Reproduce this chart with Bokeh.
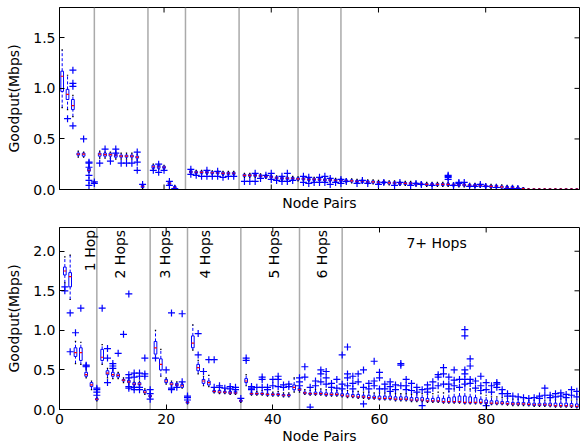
import numpy as np
from bokeh.plotting import figure
from bokeh.layouts import column
from bokeh.models import (Range1d, FixedTicker, LinearAxis, Span,
                          PrintfTickFormatter, ColumnDataSource)
from bokeh.embed import file_html
from bokeh.resources import INLINE
from bokeh.core.properties import value

FONT = "DejaVu Sans"

pairs = list(range(1, 98))
separators = [7, 17, 24, 34, 45, 53]
x_ticks = [0, 20, 40, 60, 80]
hop_labels = ["1 Hop", "2 Hops", "3 Hops", "4 Hops", "5 Hops", "6 Hops"]
hop_label_x = [5.7, 11.3, 19.7, 27.2, 40.2, 49.3]
hop7_label = "7+ Hops"
hop7_x = 70.7
hop7_y = 2.10

# ---------------- top panel ----------------
t_med = [1.12, 0.94, 0.83, 0.35, 0.35, 0.19, 0.07, 0.35, 0.345, 0.345,
         0.34, 0.33, 0.33, 0.33, 0.32, 0.03, 0.0, 0.225, 0.225, 0.22,
         0.06, 0.02, 0.0, 0.0, 0.175, 0.17, 0.17, 0.17, 0.165, 0.165,
         0.16, 0.16, 0.16, 0.0, 0.14, 0.14, 0.14, 0.135, 0.13, 0.125,
         0.115, 0.11, 0.11, 0.11, 0.105, 0.105, 0.10, 0.10, 0.10, 0.095,
         0.095, 0.09, 0.09, 0.085, 0.085, 0.08, 0.08, 0.075, 0.075, 0.07,
         0.07, 0.065, 0.065, 0.06, 0.06, 0.06, 0.055, 0.055, 0.05, 0.05,
         0.05, 0.05, 0.05, 0.045, 0.045, 0.045, 0.04, 0.04, 0.04, 0.035,
         0.03, 0.03, 0.025, 0.02, 0.02, 0.015, 0.01, 0.003, 0.003, 0.003,
         0.003, 0.003, 0.003, 0.003, 0.003, 0.003, 0.003]
t_q1 = [0.97, 0.89, 0.79, 0.34, 0.33, 0.18, 0.06, 0.33, 0.33, 0.33,
        0.32, 0.32, 0.32, 0.32, 0.31, 0.02, 0.0, 0.21, 0.21, 0.21,
        0.05, 0.01, 0.0, 0.0, 0.165, 0.16, 0.16, 0.16, 0.155, 0.155,
        0.15, 0.15, 0.15, 0.0, 0.13, 0.13, 0.13, 0.125, 0.12, 0.115,
        0.105, 0.10, 0.10, 0.10, 0.095, 0.095, 0.09, 0.09, 0.09, 0.085,
        0.085, 0.08, 0.08, 0.075, 0.075, 0.07, 0.07, 0.065, 0.065, 0.06,
        0.06, 0.055, 0.055, 0.05, 0.05, 0.05, 0.045, 0.045, 0.04, 0.04,
        0.04, 0.04, 0.04, 0.035, 0.035, 0.035, 0.03, 0.03, 0.03, 0.025,
        0.02, 0.02, 0.015, 0.01, 0.01, 0.008, 0.005, 0.0, 0.0, 0.0,
        0.0, 0.0, 0.0, 0.0, 0.0, 0.0, 0.0]
t_q3 = [1.17, 0.99, 0.89, 0.36, 0.36, 0.21, 0.07, 0.36, 0.36, 0.36,
        0.35, 0.34, 0.34, 0.34, 0.33, 0.04, 0.0, 0.24, 0.24, 0.23,
        0.07, 0.03, 0.0, 0.0, 0.185, 0.18, 0.18, 0.18, 0.175, 0.175,
        0.17, 0.17, 0.17, 0.0, 0.15, 0.15, 0.15, 0.145, 0.14, 0.135,
        0.125, 0.12, 0.12, 0.12, 0.115, 0.115, 0.11, 0.11, 0.11, 0.105,
        0.105, 0.10, 0.10, 0.095, 0.095, 0.09, 0.09, 0.085, 0.085, 0.08,
        0.08, 0.075, 0.075, 0.07, 0.07, 0.07, 0.065, 0.065, 0.06, 0.06,
        0.06, 0.06, 0.06, 0.055, 0.055, 0.055, 0.05, 0.05, 0.05, 0.045,
        0.04, 0.04, 0.035, 0.03, 0.03, 0.022, 0.015, 0.005, 0.005, 0.005,
        0.005, 0.005, 0.005, 0.005, 0.005, 0.005, 0.005]
t_lo = [0.81, 0.79, 0.72, 0.32, 0.32, 0.17, 0.06, 0.31, 0.31, 0.31,
        0.30, 0.30, 0.30, 0.30, 0.29, 0.01, 0.0, 0.20, 0.20, 0.20,
        0.04, 0.0, 0.0, 0.0, 0.155, 0.15, 0.15, 0.15, 0.145, 0.145,
        0.14, 0.14, 0.14, 0.0, 0.12, 0.12, 0.12, 0.115, 0.11, 0.105,
        0.095, 0.09, 0.09, 0.09, 0.085, 0.085, 0.08, 0.08, 0.08, 0.075,
        0.075, 0.07, 0.07, 0.065, 0.065, 0.06, 0.06, 0.055, 0.055, 0.05,
        0.05, 0.045, 0.045, 0.04, 0.04, 0.04, 0.035, 0.035, 0.03, 0.03,
        0.03, 0.03, 0.03, 0.025, 0.025, 0.025, 0.02, 0.02, 0.02, 0.015,
        0.01, 0.01, 0.005, 0.0, 0.0, 0.0, 0.0, 0.0, 0.0, 0.0,
        0.0, 0.0, 0.0, 0.0, 0.0, 0.0, 0.0]
t_hi = [1.38, 1.13, 0.93, 0.38, 0.37, 0.23, 0.08, 0.38, 0.37, 0.37,
        0.37, 0.36, 0.36, 0.36, 0.35, 0.05, 0.0, 0.25, 0.25, 0.24,
        0.08, 0.04, 0.0, 0.0, 0.20, 0.19, 0.19, 0.19, 0.185, 0.185,
        0.18, 0.18, 0.18, 0.0, 0.16, 0.16, 0.16, 0.155, 0.15, 0.145,
        0.135, 0.13, 0.13, 0.13, 0.125, 0.125, 0.12, 0.12, 0.12, 0.115,
        0.115, 0.11, 0.11, 0.105, 0.105, 0.10, 0.10, 0.095, 0.095, 0.09,
        0.09, 0.085, 0.085, 0.08, 0.08, 0.08, 0.075, 0.075, 0.07, 0.07,
        0.07, 0.07, 0.07, 0.065, 0.065, 0.065, 0.06, 0.06, 0.06, 0.055,
        0.05, 0.05, 0.045, 0.04, 0.04, 0.03, 0.02, 0.008, 0.008, 0.008,
        0.008, 0.008, 0.008, 0.008, 0.008, 0.008, 0.008]
t_out_pair = [2, 3, 3, 3, 3, 5, 6, 6, 6, 6, 6, 6, 7, 7, 8, 9, 10, 11, 11, 12,
              13, 14, 15, 15, 15, 16, 18, 19, 19, 20, 21, 21, 22, 25, 25, 26,
              27, 28, 28, 29, 30, 30, 31, 32, 33, 35, 36, 37, 37, 38, 39, 40,
              40, 41, 42, 42, 43, 43, 44, 46, 46, 47, 47, 48, 49, 49, 50, 50,
              51, 51, 52, 53, 53, 54, 56, 57, 58, 60, 61, 63, 64, 66, 67, 68,
              70, 73, 73, 73, 73, 74, 75, 75, 76, 77, 78, 79, 80, 82, 84, 85, 86]
t_out_val = [0.70, 1.18, 1.05, 1.02, 0.63, 0.50, 0.27, 0.26, 0.22, 0.14, 0.09,
             0.04, 0.075, 0.06, 0.26, 0.40, 0.28, 0.40, 0.36, 0.26,
             0.26, 0.26, 0.37, 0.27, 0.19, 0.05, 0.19, 0.25, 0.17, 0.19, 0.08,
             0.04, 0.01, 0.20, 0.15, 0.14,
             0.13, 0.19, 0.13, 0.13, 0.18, 0.13, 0.12, 0.13, 0.13, 0.08, 0.08,
             0.16, 0.08, 0.11, 0.14, 0.16,
             0.10, 0.09, 0.13, 0.08, 0.16, 0.08, 0.09, 0.13, 0.07, 0.12, 0.06,
             0.07, 0.12, 0.07, 0.13, 0.07,
             0.11, 0.05, 0.07, 0.06, 0.10, 0.08, 0.06, 0.09, 0.06, 0.05, 0.07,
             0.04, 0.07, 0.04, 0.06, 0.05,
             0.04, 0.14, 0.13, 0.12, 0.10, 0.04, 0.07, 0.06, 0.07, 0.03, 0.03,
             0.05, 0.03, 0.02, 0.01, 0.01, 0.01]

# ---------------- bottom panel ----------------
b_med = [1.75, 1.68, 0.72, 0.72, 0.44, 0.31, 0.13, 0.66, 0.46, 0.44,
         0.43, 0.37, 0.35, 0.32, 0.32, 0.22, 0.17, 0.78, 0.57, 0.36,
         0.32, 0.31, 0.30, 0.09, 0.84, 0.53, 0.36, 0.34, 0.23, 0.22,
         0.22, 0.21, 0.21, 0.11, 0.36, 0.20, 0.20, 0.20, 0.19, 0.19,
         0.19, 0.18, 0.18, 0.28, 0.25, 0.21, 0.20, 0.20, 0.20, 0.19,
         0.19, 0.19, 0.18, 0.17, 0.17, 0.16, 0.16, 0.15, 0.15, 0.14,
         0.14, 0.14, 0.13, 0.13, 0.13, 0.12, 0.12, 0.12, 0.11, 0.11,
         0.11, 0.10, 0.10, 0.10, 0.10, 0.09, 0.09, 0.09, 0.09, 0.085,
         0.08, 0.08, 0.08, 0.075, 0.07, 0.07, 0.07, 0.065, 0.06, 0.06,
         0.06, 0.055, 0.05, 0.05, 0.05, 0.045, 0.04]
b_q1 = [1.70, 1.55, 0.67, 0.62, 0.42, 0.29, 0.12, 0.62, 0.44, 0.42,
        0.41, 0.36, 0.34, 0.31, 0.31, 0.21, 0.16, 0.70, 0.50, 0.34,
        0.31, 0.30, 0.28, 0.08, 0.78, 0.49, 0.33, 0.31, 0.22, 0.21,
        0.21, 0.20, 0.20, 0.10, 0.34, 0.19, 0.19, 0.19, 0.18, 0.18,
        0.18, 0.17, 0.17, 0.25, 0.24, 0.20, 0.19, 0.19, 0.19, 0.18,
        0.18, 0.18, 0.17, 0.16, 0.16, 0.15, 0.15, 0.14, 0.14, 0.13,
        0.13, 0.13, 0.12, 0.12, 0.12, 0.11, 0.11, 0.11, 0.10, 0.10,
        0.10, 0.09, 0.09, 0.09, 0.09, 0.08, 0.08, 0.08, 0.08, 0.075,
        0.07, 0.07, 0.07, 0.065, 0.06, 0.06, 0.06, 0.055, 0.05, 0.05,
        0.05, 0.045, 0.04, 0.04, 0.04, 0.035, 0.03]
b_q3 = [1.80, 1.73, 0.78, 0.78, 0.47, 0.34, 0.14, 0.76, 0.49, 0.47,
        0.45, 0.38, 0.37, 0.34, 0.34, 0.24, 0.18, 0.86, 0.64, 0.38,
        0.34, 0.33, 0.32, 0.10, 0.93, 0.57, 0.38, 0.36, 0.24, 0.24,
        0.23, 0.23, 0.23, 0.12, 0.39, 0.21, 0.21, 0.21, 0.20, 0.20,
        0.20, 0.19, 0.19, 0.31, 0.27, 0.22, 0.21, 0.22, 0.22, 0.21,
        0.21, 0.21, 0.20, 0.20, 0.19, 0.19, 0.18, 0.18, 0.17, 0.17,
        0.17, 0.17, 0.16, 0.16, 0.16, 0.15, 0.15, 0.15, 0.14, 0.14,
        0.15, 0.14, 0.15, 0.16, 0.17, 0.17, 0.16, 0.15, 0.13, 0.12,
        0.11, 0.11, 0.10, 0.10, 0.09, 0.09, 0.09, 0.085, 0.08, 0.08,
        0.08, 0.08, 0.08, 0.08, 0.08, 0.075, 0.07]
b_lo = [1.60, 1.39, 0.58, 0.57, 0.40, 0.25, 0.11, 0.57, 0.40, 0.39,
        0.39, 0.34, 0.32, 0.29, 0.29, 0.19, 0.15, 0.65, 0.42, 0.32,
        0.29, 0.28, 0.27, 0.07, 0.75, 0.45, 0.30, 0.29, 0.21, 0.20,
        0.20, 0.19, 0.19, 0.09, 0.30, 0.18, 0.18, 0.18, 0.17, 0.17,
        0.17, 0.16, 0.16, 0.22, 0.22, 0.19, 0.18, 0.18, 0.18, 0.17,
        0.17, 0.17, 0.16, 0.15, 0.15, 0.14, 0.14, 0.13, 0.13, 0.12,
        0.12, 0.12, 0.11, 0.11, 0.11, 0.10, 0.10, 0.10, 0.09, 0.09,
        0.09, 0.08, 0.08, 0.08, 0.08, 0.07, 0.07, 0.07, 0.07, 0.065,
        0.06, 0.06, 0.06, 0.055, 0.05, 0.05, 0.05, 0.045, 0.04, 0.04,
        0.04, 0.035, 0.03, 0.03, 0.03, 0.025, 0.02]
b_hi = [1.93, 1.95, 0.86, 0.85, 0.50, 0.36, 0.15, 0.82, 0.52, 0.50,
        0.47, 0.40, 0.39, 0.36, 0.36, 0.26, 0.19, 1.00, 0.76, 0.40,
        0.36, 0.35, 0.34, 0.11, 1.07, 0.62, 0.42, 0.43, 0.26, 0.25,
        0.25, 0.24, 0.24, 0.12, 0.44, 0.23, 0.23, 0.24, 0.22, 0.22,
        0.23, 0.21, 0.21, 0.40, 0.29, 0.25, 0.24, 0.25, 0.26, 0.25,
        0.25, 0.24, 0.24, 0.24, 0.23, 0.23, 0.22, 0.22, 0.21, 0.21,
        0.21, 0.21, 0.20, 0.20, 0.20, 0.19, 0.20, 0.20, 0.19, 0.20,
        0.22, 0.21, 0.23, 0.26, 0.28, 0.30, 0.26, 0.24, 0.20, 0.18,
        0.16, 0.16, 0.15, 0.14, 0.13, 0.13, 0.13, 0.12, 0.12, 0.12,
        0.12, 0.12, 0.12, 0.13, 0.13, 0.12, 0.12]
b_out_pair = [1, 1, 2, 2, 3, 4, 5, 5, 5, 7, 7, 7, 7, 8, 9, 9, 9, 10, 10, 10,
              11, 12, 13, 13, 13, 13, 13, 14, 14, 14, 14, 15, 15, 15, 15,
              16, 16, 16, 17, 17, 17, 18, 20, 21, 21, 21, 22, 23, 23,
              24, 24, 24, 26, 26, 27, 28, 29, 29, 30, 30, 31, 32, 32, 33, 33,
              34, 35, 35, 36, 36, 36, 37, 38, 38, 38, 39, 39, 40, 40,
              41, 41, 41, 42, 42, 43, 43, 45, 45, 45, 46, 46, 47, 47, 48, 48,
              49, 49, 49, 50, 50, 50, 51, 51, 52, 52, 53, 53, 53,
              54, 54, 54, 54, 55, 55, 55, 56, 56, 57, 57, 57, 58, 58,
              59, 59, 59, 60, 60, 60, 61, 61, 62, 62, 62, 63, 63,
              64, 64, 64, 65, 65, 65, 66, 66, 67, 67, 68, 68, 69, 69, 69,
              70, 70, 71, 71, 71, 72, 72, 72, 73, 73, 73, 74, 74, 74, 75, 75,
              76, 76, 76, 76, 76, 76, 77, 77, 77, 77, 78, 78, 79, 79, 79,
              80, 80, 80, 81, 81, 82, 82, 82, 83, 83, 84, 84, 85, 86, 87, 88,
              89, 90, 90, 91, 91, 92, 92, 93, 93, 94, 94, 95, 95, 96, 96, 97, 97]
b_out_val = [1.55, 1.50, 1.22, 0.73, 0.97, 1.28, 0.56, 0.55, 0.54, 0.18, 0.22,
             0.25, 0.27, 1.28, 0.77, 0.65, 0.34, 0.58, 0.55, 0.52,
             0.71, 0.95, 1.46, 0.44, 0.40, 0.29, 0.27, 0.46, 0.41, 0.28, 0.25,
             0.46, 0.42, 0.28, 0.25,
             0.65, 0.45, 0.42, 0.13, 0.20, 0.25, 0.65, 0.50, 1.22, 0.27, 0.25,
             0.28, 1.21, 0.35,
             0.12, 0.15, 0.17, 0.96, 0.69, 0.48, 0.63, 0.63, 0.28, 0.30, 0.28,
             0.27, 0.29, 0.26, 0.28, 0.25,
             0.14, 0.65, 0.62, 0.29, 0.27, 0.25, 0.28, 0.41, 0.38, 0.28, 0.28,
             0.25, 0.38, 0.30,
             0.42, 0.38, 0.29, 0.31, 0.28, 0.32, 0.29, 0.40, 0.35, 0.30, 0.54,
             0.41, 0.03, 0.28, 0.36, 0.30,
             0.50, 0.45, 0.35, 0.48, 0.40, 0.32, 0.33, 0.28, 0.38, 0.27, 0.69,
             0.32, 0.26,
             0.79, 0.45, 0.40, 0.30, 0.42, 0.33, 0.26, 0.45, 0.35, 0.50, 0.28,
             0.07, 0.33, 0.26,
             0.61, 0.36, 0.30, 0.47, 0.40, 0.26, 0.32, 0.26, 0.35, 0.29, 0.23,
             0.31, 0.25,
             0.58, 0.56, 0.30, 0.38, 0.30, 0.25, 0.33, 0.24, 0.28, 0.22, 0.25,
             0.05, 0.31, 0.26, 0.22,
             0.35, 0.27, 0.44, 0.41, 0.30, 0.53, 0.45, 0.32, 0.41, 0.32, 0.26,
             0.50, 0.37, 0.30, 0.38, 0.28,
             1.01, 0.93, 0.50, 0.45, 0.38, 0.32, 0.64, 0.55, 0.38, 0.33, 0.36,
             0.27, 0.42, 0.30, 0.24,
             0.34, 0.25, 0.05, 0.30, 0.22, 0.34, 0.32, 0.28, 0.25, 0.20, 0.20,
             0.17, 0.17, 0.16, 0.15, 0.14,
             0.15, 0.17, 0.14, 0.27, 0.18, 0.18, 0.15, 0.20, 0.16, 0.21, 0.17,
             0.19, 0.15, 0.25, 0.18, 0.23, 0.16]

XMAX = 97.5
FRAME_W = 520
BORDER_L = 59
BORDER_R = 5
TICK_PX = 5


def style_axis(ax, ticks, fmt=None):
    ax.ticker = FixedTicker(ticks=ticks)
    ax.major_tick_in = TICK_PX
    ax.major_tick_out = 0
    ax.minor_tick_in = 0
    ax.minor_tick_out = 0
    ax.axis_line_color = "black"
    ax.major_tick_line_color = "black"
    ax.major_label_text_font = FONT
    ax.major_label_text_color = "black"
    ax.major_label_text_font_size = "14px"
    ax.major_label_standoff = 4
    ax.axis_label_text_font = FONT
    ax.axis_label_text_font_size = "14px"
    ax.axis_label_text_font_style = "normal"
    ax.axis_label_text_color = "black"
    if fmt is not None:
        ax.formatter = fmt


def panel(med, q1, q3, lo, hi, opair, oval, xstart, ymax, yticks, show_xlabels,
          frame_h, b_top, b_bottom):
    p = figure(width=BORDER_L + FRAME_W + BORDER_R, height=b_top + frame_h + b_bottom,
               x_range=Range1d(xstart, XMAX), y_range=Range1d(0, ymax),
               x_axis_type=None, y_axis_type=None,
               output_backend="svg", toolbar_location=None,
               min_border_left=BORDER_L, min_border_right=BORDER_R,
               min_border_top=b_top, min_border_bottom=b_bottom)
    p.outline_line_color = "black"
    p.background_fill_color = "white"
    p.border_fill_color = "white"

    xb = LinearAxis(axis_label="Node Pairs")
    style_axis(xb, x_ticks if show_xlabels else [])
    xb.axis_label_standoff = 1 if show_xlabels else 5
    p.add_layout(xb, "below")
    yl = LinearAxis(axis_label="Goodput(Mbps)")
    style_axis(yl, yticks, PrintfTickFormatter(format="%.1f"))
    yl.axis_label_standoff = 8
    p.add_layout(yl, "left")

    # inward tick marks on the unlabeled sides
    dy = TICK_PX * ymax / frame_h
    dx = TICK_PX * (XMAX - xstart) / FRAME_W
    tx = [t for t in x_ticks if t > xstart]
    p.segment(x0=tx, y0=[ymax] * len(tx), x1=tx, y1=[ymax - dy] * len(tx),
              line_color="black", line_width=1)
    if not show_xlabels:
        p.segment(x0=tx, y0=[0] * len(tx), x1=tx, y1=[dy] * len(tx),
                  line_color="black", line_width=1)
    p.segment(x0=[XMAX] * len(yticks), y0=yticks, x1=[XMAX - dx] * len(yticks),
              y1=yticks, line_color="black", line_width=1)

    for s in separators:
        p.add_layout(Span(location=s, dimension="height", line_color="#aaaaaa",
                          line_width=1.5, level="underlay"))

    x = np.array(pairs, dtype=float)
    src = ColumnDataSource(dict(x=x, l=x - 0.25, r=x + 0.25, cl=x - 0.125,
                                cr=x + 0.125, med=med, q1=q1, q3=q3, lo=lo, hi=hi))
    p.segment(x0="x", y0="q3", x1="x", y1="hi", source=src, line_color="blue",
              line_dash="3 2", line_width=1)
    p.segment(x0="x", y0="lo", x1="x", y1="q1", source=src, line_color="blue",
              line_dash="3 2", line_width=1)
    p.segment(x0="cl", y0="hi", x1="cr", y1="hi", source=src, line_color="black",
              line_width=1.2)
    p.segment(x0="cl", y0="lo", x1="cr", y1="lo", source=src, line_color="black",
              line_width=1.2)
    p.quad(left="l", right="r", bottom="q1", top="q3", source=src,
           fill_color=None, line_color="blue", line_width=1)
    p.segment(x0="l", y0="med", x1="r", y1="med", source=src, line_color="red",
              line_width=1.2)
    p.scatter(x=opair, y=oval, marker="cross", size=7, line_color="blue",
              line_width=1.2)
    return p


top = panel(t_med, t_q1, t_q3, t_lo, t_hi, t_out_pair, t_out_val,
            0.5, 1.8, [0.0, 0.5, 1.0, 1.5], False, 182, 7, 30)
bot = panel(b_med, b_q1, b_q3, b_lo, b_hi, b_out_pair, b_out_val,
            0.0, 2.3, [0.0, 0.5, 1.0, 1.5, 2.0], True, 183, 8, 36)

hop_y = [2.27] * len(hop_labels)
bot.text(x=hop_label_x, y=hop_y, text=hop_labels, angle=np.pi / 2,
         text_align="right", text_baseline="middle", text_font=value(FONT),
         text_font_size="14px", text_color="black")
bot.text(x=[hop7_x], y=[hop7_y], text=[hop7_label], text_align="center",
         text_baseline="middle", text_font=value(FONT), text_font_size="14px",
         text_color="black")

layout = column(top, bot, spacing=0)
open("out.html", "w").write(file_html(layout, INLINE))
